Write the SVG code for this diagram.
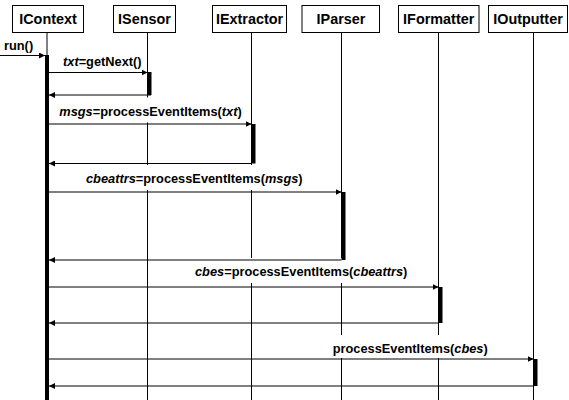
<svg xmlns="http://www.w3.org/2000/svg" width="569" height="400" viewBox="0 0 569 400">
<defs>
<marker id="ah" markerUnits="userSpaceOnUse" markerWidth="6" markerHeight="6" refX="6" refY="3" orient="auto">
<path d="M0,0 L6,3 L0,6 z" fill="#000"/>
</marker>
<style>
.box{fill:#fff;stroke:#000;stroke-width:1}
.hd{font-family:"Liberation Sans",Arial,sans-serif;font-weight:bold;font-size:14.4px;text-anchor:middle;fill:#000}
.lbl{font-family:"Liberation Sans",Arial,sans-serif;font-weight:bold;font-size:12.8px;fill:#000}
.life{stroke:#000;stroke-width:1;fill:none}
.bar{fill:#000}
.msg{stroke:#000;stroke-width:1;fill:none;marker-end:url(#ah)}
.bg{fill:#fff}
</style>
</defs>
<rect width="569" height="400" fill="#fff"/>
<g id="lifelines">
<line class="life" x1="47" y1="33" x2="47" y2="400"/>
<line class="life" x1="147.5" y1="33" x2="147.5" y2="400"/>
<line class="life" x1="251.5" y1="33" x2="251.5" y2="400"/>
<line class="life" x1="341.5" y1="33" x2="341.5" y2="400"/>
<line class="life" x1="438.5" y1="33" x2="438.5" y2="400"/>
<line class="life" x1="533.5" y1="33" x2="533.5" y2="400"/>
</g>
<g id="IContext"><rect class="box" x="12.5" y="5.5" width="71" height="27"/><text class="hd" x="48" y="23.5">IContext</text></g>
<g id="ISensor"><rect class="box" x="113.5" y="5.5" width="62" height="27"/><text class="hd" x="144.5" y="23.5">ISensor</text></g>
<g id="IExtractor"><rect class="box" x="212.5" y="5.5" width="74" height="27"/><text class="hd" x="249.5" y="23.5">IExtractor</text></g>
<g id="IParser"><rect class="box" x="302" y="5.5" width="77.5" height="27"/><text class="hd" x="341" y="23.5">IParser</text></g>
<g id="IFormatter"><rect class="box" x="398.5" y="5.5" width="80.5" height="27"/><text class="hd" x="438.7" y="23.5">IFormatter</text></g>
<g id="IOutputter"><rect class="box" x="488.5" y="5.5" width="79" height="27"/><text class="hd" x="528" y="23.5">IOutputter</text></g>
<g id="labelbg">
<rect class="bg" x="52" y="97.5" width="196" height="25"/>
<rect class="bg" x="79" y="165" width="231" height="25"/>
<rect class="bg" x="188" y="258" width="226" height="25"/>
<rect class="bg" x="325" y="335" width="170" height="23"/>
</g>
<g id="activations">
<rect class="bar" x="45" y="55" width="4" height="345"/>
<rect class="bar" x="147.5" y="72" width="4" height="23"/>
<rect class="bar" x="251.5" y="124" width="4" height="39.5"/>
<rect class="bar" x="341.5" y="192" width="4" height="68"/>
<rect class="bar" x="438.5" y="287" width="4" height="36"/>
<rect class="bar" x="533.5" y="359" width="4" height="27"/>
</g>
<g id="connectors">
<line class="msg" x1="0" y1="55.5" x2="45" y2="55.5"/>
<line class="msg" x1="49" y1="72.5" x2="147.5" y2="72.5"/>
<line class="msg" x1="151" y1="95" x2="49" y2="95"/>
<line class="msg" x1="49" y1="124" x2="251.5" y2="124"/>
<line class="msg" x1="251.5" y1="163.5" x2="49" y2="163.5"/>
<line class="msg" x1="49" y1="192" x2="341.5" y2="192"/>
<line class="msg" x1="341.5" y1="260" x2="49" y2="260"/>
<line class="msg" x1="49" y1="287" x2="438.5" y2="287"/>
<line class="msg" x1="438.5" y1="323" x2="49" y2="323"/>
<line class="msg" x1="49" y1="359" x2="533.5" y2="359"/>
<line class="msg" x1="533.5" y1="386" x2="49" y2="386"/>
</g>
<g id="labels">
<text class="lbl" x="4" y="49.5">run()</text>
<text class="lbl" x="63" y="66"><tspan font-style="italic">txt</tspan>=getNext()</text>
<text class="lbl" x="59.3" y="115.5"><tspan font-style="italic">msgs</tspan>=processEventItems(<tspan font-style="italic">txt</tspan>)</text>
<text class="lbl" x="86" y="183"><tspan font-style="italic">cbeattrs</tspan>=processEventItems(<tspan font-style="italic">msgs</tspan>)</text>
<text class="lbl" x="195" y="276"><tspan font-style="italic">cbes</tspan>=processEventItems(<tspan font-style="italic">cbeattrs</tspan>)</text>
<text class="lbl" x="332.7" y="353">processEventItems(<tspan font-style="italic">cbes</tspan>)</text>
</g>
</svg>
